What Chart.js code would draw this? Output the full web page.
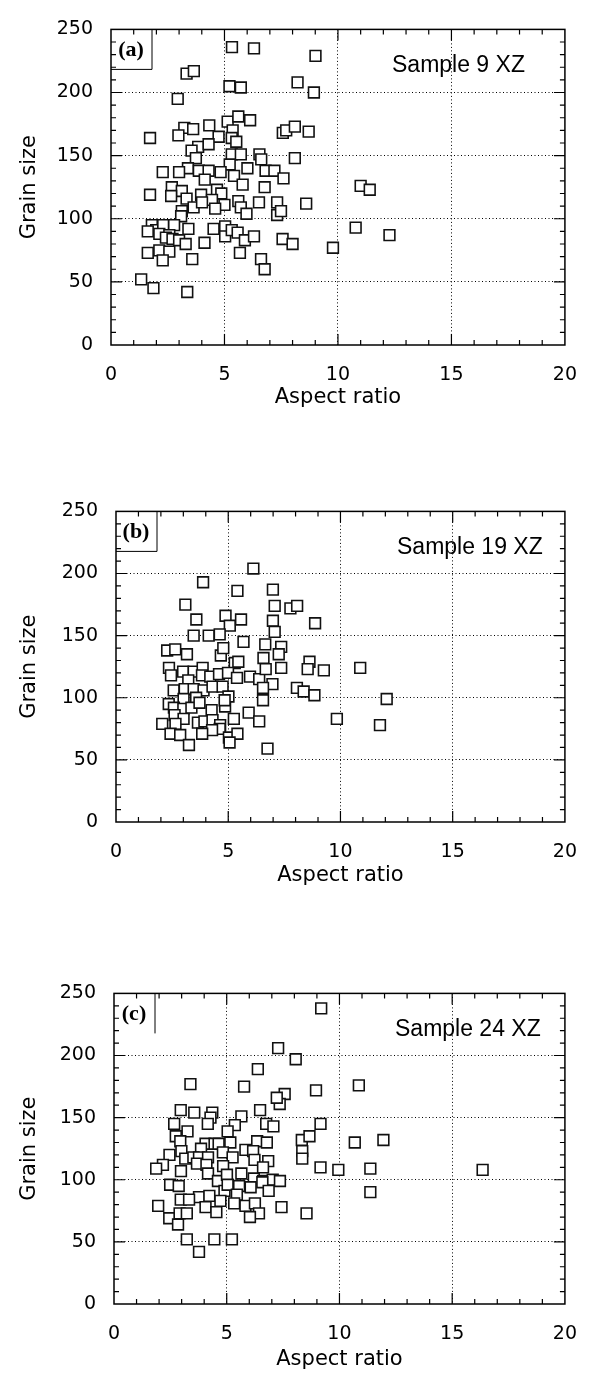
<!DOCTYPE html>
<html>
<head>
<meta charset="utf-8">
<script src="https://cdn.jsdelivr.net/npm/chart.js@4.4.0/dist/chart.umd.min.js"></script>
<style>
  body { margin: 0; background: #fff; }
  .panel { position: absolute; left: 0; width: 596px; height: 410px; }
</style>
</head>
<body>
<div class="panel" style="top:0px"><canvas id="chartA"></canvas></div>
<div class="panel" style="top:482px"><canvas id="chartB"></canvas></div>
<div class="panel" style="top:964px"><canvas id="chartC"></canvas></div>
<script>
// 軸の目盛り
const xTickValues = [0, 5, 10, 15, 20];
const yTickValues = [0, 50, 100, 150, 200, 250];
const panelLabels = ['(a)', '(b)', '(c)'];
const sampleNames = ['Sample 9 XZ', 'Sample 19 XZ', 'Sample 24 XZ'];

// (a) Sample 9 XZ
const aspectA = [5.33, 6.30, 3.33, 3.65, 5.22, 5.72, 2.94, 5.14, 5.61, 6.13, 4.33, 3.23, 3.62, 2.97, 1.72, 4.74,
  5.36, 5.32, 5.52, 3.84, 4.30, 3.55, 3.74, 5.32, 5.72, 6.54, 6.62, 5.23, 6.01, 3.39, 2.28, 3.00, 3.87, 4.30,
  4.83, 5.42, 6.81, 7.20, 4.13, 5.80, 2.68, 3.12, 2.65, 3.97, 4.67, 4.86, 6.77, 1.72, 3.33, 4.45, 5.61, 6.52,
  7.32, 3.64, 4.01, 5.00, 4.59, 5.72, 5.97, 3.12, 3.09, 7.32, 7.49, 1.80, 1.99, 2.30, 2.78, 3.41, 4.52, 5.03,
  5.03, 5.32, 5.58, 1.62, 2.13, 2.57, 2.42, 2.71, 3.00, 3.29, 4.12, 5.90, 6.30, 1.62, 2.13, 2.57, 2.28, 3.58,
  5.68, 6.61, 6.77, 1.33, 1.87, 3.36, 9.01, 8.22, 8.94, 7.57, 7.72, 8.10, 8.71, 8.10, 7.60, 8.60, 7.56, 8.00,
  9.78, 11.00, 11.40, 10.78, 12.27];
const grainA = [236, 235, 215, 217, 205, 204, 195, 177, 181, 178, 174, 172, 171, 166, 164, 165,
  170, 164, 161, 157, 159, 154, 148, 151, 151, 151, 147, 143, 140, 140, 137, 137, 138, 138,
  137, 134, 138, 138, 131, 127, 125, 122, 118, 119, 123, 120, 125, 119, 116, 115, 114, 113,
  113, 109, 113, 111, 108, 109, 104, 106, 102, 103, 106, 95, 91, 95, 95, 92, 92, 94,
  86, 91, 89, 90, 88, 87, 85, 84, 83, 80, 81, 83, 86, 73, 75, 74, 67, 68,
  73, 68, 60, 52, 45, 42, 229, 208, 200, 168, 170, 173, 169, 148, 132, 112, 84, 80,
  77, 126, 123, 93, 87];

// (b) Sample 19 XZ
const aspectB = [6.12, 3.88, 5.41, 6.99, 3.09, 7.07, 7.77, 8.07, 3.58, 4.88, 5.07, 5.57, 6.99, 8.87, 3.46, 4.13,
  4.62, 7.07, 5.68, 6.65, 7.36, 7.25, 2.28, 2.64, 3.16, 4.67, 4.78, 5.29, 5.45, 6.57, 8.62, 8.54, 9.26, 2.36,
  2.45, 2.99, 3.46, 3.86, 3.83, 4.20, 4.59, 4.99, 5.39, 5.97, 6.38, 6.67, 7.36, 6.97, 6.55, 8.06, 8.36, 8.84,
  3.22, 2.57, 3.06, 3.46, 3.90, 4.30, 4.75, 3.01, 3.57, 2.35, 2.58, 3.00, 3.36, 3.72, 4.26, 4.86, 5.01, 4.84,
  5.91, 6.38, 6.55, 5.25, 2.61, 3.01, 2.06, 2.65, 3.65, 3.94, 4.30, 4.64, 4.62, 4.28, 3.84, 2.43, 2.86, 3.25,
  5.03, 5.41, 5.06, 6.75, 9.84, 10.88, 12.06, 11.76];
const grainB = [204, 193, 186, 187, 175, 174, 172, 174, 163, 166, 158, 163, 162, 160, 150, 150,
  151, 153, 145, 143, 141, 135, 138, 139, 135, 134, 140, 128, 129, 132, 129, 123, 122, 124,
  118, 121, 121, 124, 118, 117, 119, 120, 116, 117, 115, 123, 124, 111, 108, 108, 105, 102,
  114, 106, 107, 107, 106, 109, 109, 99, 100, 95, 92, 91, 92, 96, 90, 93, 101, 98,
  88, 81, 98, 83, 86, 83, 79, 79, 80, 81, 82, 78, 75, 74, 71, 71, 70, 62,
  68, 71, 64, 59, 83, 124, 99, 78];

// (c) Sample 24 XZ
const aspectC = [9.19, 7.28, 8.06, 6.38, 3.39, 5.77, 8.96, 7.57, 7.35, 7.22, 2.96, 3.56, 4.36, 4.28, 6.48, 5.65,
  2.67, 4.16, 6.75, 7.07, 9.16, 3.26, 2.74, 2.94, 5.36, 5.04, 5.16, 4.06, 4.46, 4.64, 6.35, 6.78, 8.33, 8.67,
  2.46, 2.99, 3.86, 4.83, 5.83, 6.17, 8.35, 8.35, 3.16, 3.52, 3.77, 4.17, 5.26, 6.23, 6.84, 2.17, 1.87, 2.97,
  3.68, 4.10, 4.84, 6.61, 9.16, 9.95, 2.49, 2.87, 4.17, 4.61, 5.01, 5.65, 6.20, 6.61, 7.04, 7.36, 4.90, 5.04,
  5.55, 6.06, 6.58, 6.86, 5.45, 3.77, 4.23, 4.72, 2.96, 3.33, 1.96, 4.06, 4.54, 5.33, 5.83, 6.25, 6.43, 6.03,
  7.43, 8.54, 2.45, 2.91, 3.23, 2.84, 3.23, 4.45, 5.23, 3.77, 10.86, 10.68, 11.95, 11.37, 11.37, 16.35];
const grainC = [238, 206, 197, 189, 177, 175, 172, 169, 161, 166, 156, 154, 154, 150, 156, 151,
  145, 145, 145, 143, 145, 139, 135, 131, 144, 139, 130, 129, 129, 129, 131, 130, 132, 135,
  120, 123, 125, 122, 124, 123, 123, 117, 117, 118, 118, 118, 118, 116, 115, 112, 109, 107,
  113, 112, 111, 110, 110, 108, 96, 95, 105, 99, 104, 105, 101, 99, 100, 99, 91, 96,
  95, 94, 98, 91, 88, 86, 87, 83, 84, 84, 79, 78, 74, 81, 79, 81, 73, 70,
  78, 73, 69, 73, 73, 64, 52, 52, 52, 42, 176, 130, 132, 109, 90, 108];

// 枠・内向きの目盛り・パネル文字を描く
const frameTicks = {
  id: 'frameTicks',
  afterDraw(chart, args, opts) {
    const ctx = chart.ctx;
    const area = chart.chartArea;
    const xs = chart.scales.x;
    const ys = chart.scales.y;
    ctx.save();
    ctx.strokeStyle = '#000';
    ctx.lineWidth = 1.5;
    ctx.strokeRect(area.left, area.top, area.right - area.left, area.bottom - area.top);

    ctx.lineWidth = 1.2;
    ctx.beginPath();
    for (let v = 1; v < 20; v++) {
      const len = v % 5 === 0 ? 11 : 5;
      const px = xs.getPixelForValue(v);
      ctx.moveTo(px, area.bottom); ctx.lineTo(px, area.bottom - len);
      ctx.moveTo(px, area.top); ctx.lineTo(px, area.top + len);
    }
    for (let v = 10; v < 250; v += 10) {
      const len = v % 50 === 0 ? 11 : 5;
      const py = ys.getPixelForValue(v);
      ctx.moveTo(area.left, py); ctx.lineTo(area.left + len, py);
      ctx.moveTo(area.right, py); ctx.lineTo(area.right - len, py);
    }
    ctx.stroke();

    // (a) の箱
    ctx.lineWidth = 1;
    ctx.beginPath();
    ctx.moveTo(area.left + 41, area.top);
    ctx.lineTo(area.left + 41, area.top + 40);
    if (opts.boxBottom) ctx.lineTo(area.left, area.top + 40);
    ctx.stroke();

    ctx.fillStyle = '#000';
    ctx.textBaseline = 'middle';
    ctx.textAlign = 'center';
    ctx.font = 'bold 22px "Liberation Serif"';
    ctx.fillText(opts.label, area.left + 20, area.top + 21);
    ctx.textAlign = 'left';
    ctx.font = '23px "Liberation Sans"';
    ctx.fillText(opts.sample, area.left + 281, area.top + 36);
    ctx.restore();
  }
};

function buildPoints(xs, ys) {
  return xs.map((x, i) => ({x: x, y: ys[i]}));
}

function drawPanel(id, idx, xs, ys, rightPad, leftW, xAxisH, titlePad, boxBottom) {
  const points = buildPoints(xs, ys);
  const gridColor = (c, lo, hi) => (c.tick && (c.tick.value === lo || c.tick.value === hi)) ? 'rgba(0,0,0,0)' : '#000';
  return new Chart(document.getElementById(id), {
    type: 'scatter',
    data: {
      datasets: [{
        data: points,
        pointStyle: 'rect',
        pointRadius: 7.6,
        pointBorderWidth: 1.6,
        borderColor: '#111',
        backgroundColor: '#fff'
      }, {
        data: points,
        pointStyle: 'circle',
        pointRadius: 0.7,
        pointBorderWidth: 0,
        backgroundColor: '#888'
      }]
    },
    options: {
      responsive: true,
      maintainAspectRatio: false,
      animation: false,
      events: [],
      layout: { padding: { top: 17, right: rightPad, left: 0, bottom: 0 } },
      plugins: {
        legend: { display: false },
        tooltip: { enabled: false },
        frameTicks: { label: panelLabels[idx], sample: sampleNames[idx], boxBottom: boxBottom }
      },
      scales: {
        x: {
          type: 'linear', min: 0, max: 20,
          afterBuildTicks: s => { s.ticks = xTickValues.map(v => ({value: v})); },
          afterFit: s => { s.height = xAxisH; },
          grid: { color: c => gridColor(c, 0, 20), lineWidth: 1, drawTicks: false },
          border: { display: false, dash: [1, 2.5] },
          ticks: { padding: 19, color: '#000', font: { size: 19 }, maxRotation: 0 },
          title: { display: true, text: 'Aspect ratio', color: '#000', font: { size: 21 }, padding: { top: 0, bottom: titlePad } }
        },
        y: {
          type: 'linear', min: 0, max: 250,
          afterBuildTicks: s => { s.ticks = yTickValues.map(v => ({value: v})); },
          afterFit: s => { s.width = leftW; },
          grid: { color: c => gridColor(c, 0, 250), lineWidth: 1, drawTicks: false },
          border: { display: false, dash: [1, 2.5] },
          ticks: { padding: 18, color: '#000', font: { size: 19 } },
          title: { display: true, text: 'Grain size', color: '#000', font: { size: 21 }, padding: { top: 17, bottom: 0 } }
        }
      }
    },
    plugins: [frameTicks]
  });
}

Chart.defaults.font.family = '"DejaVu Sans", sans-serif';

window.onload = function() {
  drawPanel('chartA', 0, aspectA, grainA, 25, 111, 65, 0, true);
  drawPanel('chartB', 1, aspectB, grainB, 21, 116, 70, 4, true);
  drawPanel('chartC', 2, aspectC, grainC, 23, 114, 70, 2, false);
};
</script>
</body>
</html>
